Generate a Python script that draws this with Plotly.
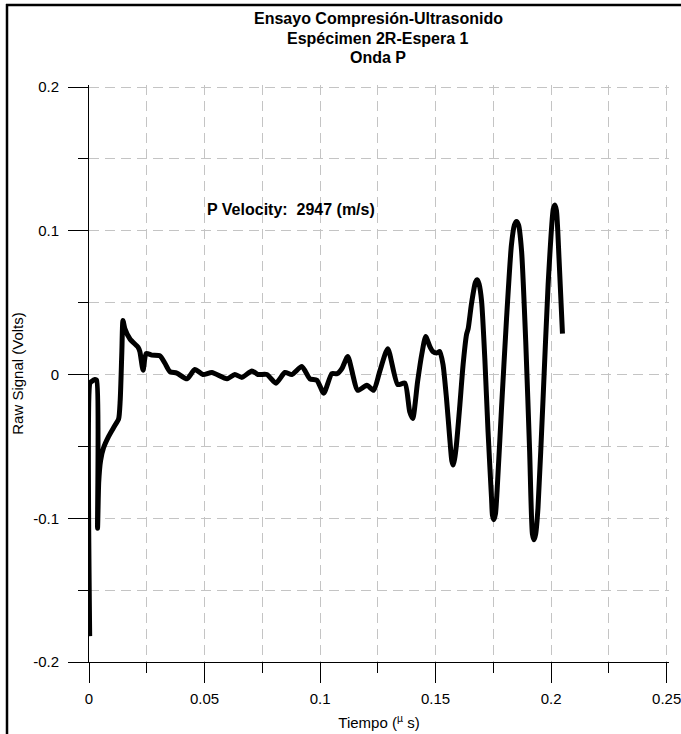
import plotly.graph_objects as go

# ---- data ----
time_us = [
    0.0003, 0.0004, 0.0010, 0.0025, 0.0033, 0.0037, 0.0042, 0.0050, 0.0063, 0.0085,
    0.0110, 0.0128, 0.0135, 0.0142, 0.0147, 0.0155, 0.0178, 0.0212, 0.0220, 0.0234,
    0.0247, 0.0272, 0.0307, 0.0328, 0.0350, 0.0380, 0.0424, 0.0458, 0.0493, 0.0532,
    0.0597, 0.0631, 0.0662, 0.0705, 0.0731, 0.0770, 0.0809, 0.0848, 0.0878, 0.0921,
    0.0956, 0.0986, 0.1016, 0.1051, 0.1073, 0.1094, 0.1120, 0.1163, 0.1202, 0.1232,
    0.1258, 0.1293, 0.1336, 0.1367, 0.1388, 0.1401, 0.1422, 0.1440, 0.1457, 0.1475,
    0.1488, 0.1505, 0.1518, 0.1532, 0.1547, 0.1561, 0.1570, 0.1576, 0.1582, 0.1590,
    0.1605, 0.1619, 0.1634, 0.1641, 0.1655, 0.1672, 0.1680, 0.1688, 0.1699, 0.1713,
    0.1727, 0.1742, 0.1746, 0.1752, 0.1759, 0.1766, 0.1785, 0.1807, 0.1828, 0.1841,
    0.1850, 0.1859, 0.1872, 0.1890, 0.1907, 0.1919, 0.1926, 0.1933, 0.1943, 0.1965,
    0.1987, 0.2009, 0.2016, 0.2023, 0.2034, 0.2049,
]
raw_signal = [
    -0.182, -0.006, -0.005, -0.0035, -0.004, -0.107, -0.075, -0.060, -0.051, -0.043,
    -0.036, -0.031, -0.018, 0.015, 0.0376, 0.032, 0.0245, 0.019, 0.016, 0.003,
    0.0146, 0.0135, 0.013, 0.008, 0.002, 0.001, -0.003, 0.0035, 0.0, 0.0014,
    -0.003, 0.0, -0.002, 0.0025, 0.0, 0.0, -0.006, 0.0014, 0.0, 0.0056,
    -0.003, -0.004, -0.013, 0.0007, 0.0005, 0.004, 0.0125, -0.011, -0.0075, -0.011,
    0.002, 0.018, -0.007, -0.006, -0.026, -0.0306, -0.005, 0.014, 0.0264, 0.0195,
    0.016, 0.015, 0.016, 0.007, -0.0165, -0.044, -0.060, -0.063, -0.059, -0.049,
    -0.021, 0.007, 0.028, 0.032, 0.049, 0.064, 0.066, 0.063, 0.051, 0.011,
    -0.040, -0.086, -0.098, -0.101, -0.097, -0.081, -0.024, 0.039, 0.090, 0.104,
    0.1065, 0.104, 0.086, 0.023, -0.054, -0.111, -0.115, -0.111, -0.093, -0.017,
    0.063, 0.115, 0.118, 0.114, 0.081, 0.0285,
]

x_tick_vals = [0, 0.05, 0.1, 0.15, 0.2, 0.25]
x_tick_text = ["0", "0.05", "0.1", "0.15", "0.2", "0.25"]
y_tick_vals = [-0.2, -0.1, 0, 0.1, 0.2]
y_tick_text = ["-0.2", "-0.1", "0", "0.1", "0.2"]

title_lines = ["Ensayo Compresión-Ultrasonido", "Espécimen 2R-Espera 1", "Onda P"]
velocity_label = "P Velocity:\u00a0 2947 (m/s)"
velocity_pos = (0.050, 0.115)

FONT = "Liberation Sans, Arial, sans-serif"
GRID = "#c4c4c4"

fig = go.Figure()
fig.add_trace(go.Scatter(
    x=time_us, y=raw_signal, mode="lines",
    line=dict(color="black", width=5, shape="spline", smoothing=0.6),
    showlegend=False, hoverinfo="skip",
))

W, H = 681, 734
# ranges are padded a hair so the edge grid lines (0.25 and 0.2) are kept
X_RANGE = [0, 0.251]
Y_RANGE = [-0.2, 0.2014]
L, R, T, B = 89, 12, 85, 72
pw, ph = W - L - R, H - T - B

def px_x(p):
    return (p - L) / pw

def px_y(p):
    return 1 - (p - T) / ph

title_y_px = [18, 38, 58]
annotations = [
    dict(x=px_x(378), y=px_y(yp), xref="paper", yref="paper",
         text=f"<b>{s}</b>", showarrow=False,
         xanchor="center", yanchor="middle",
         font=dict(family=FONT, size=16, color="black"))
    for s, yp in zip(title_lines, title_y_px)
]
annotations.append(dict(
    x=velocity_pos[0], y=velocity_pos[1], xref="x", yref="y",
    text=f"<b>{velocity_label}</b>", showarrow=False,
    xanchor="left", yanchor="middle", font=dict(family=FONT, size=16, color="black"),
))

axis_common = dict(
    showline=True, linecolor="black", linewidth=1,
    ticks="outside", ticklen=20, tickcolor="black", tickwidth=1,
    showgrid=True, gridcolor=GRID, griddash="10px,6px", gridwidth=1,
    zeroline=False, automargin=False, tickfont=dict(size=15),
    ticklabeloverflow="allow",
)

fig.update_layout(
    width=W, height=H,
    margin=dict(l=L, r=R, t=T, b=B, autoexpand=False),
    paper_bgcolor="white", plot_bgcolor="white",
    font=dict(family=FONT, size=15, color="black"),
    xaxis=dict(
        range=X_RANGE, tickvals=x_tick_vals, ticktext=x_tick_text,
        minor=dict(dtick=0.025, tick0=0, ticks="outside", ticklen=10,
                   tickcolor="black", showgrid=True, gridcolor=GRID,
                   griddash="10px,6px", gridwidth=1),
        ticklabelstandoff=3,
        title=dict(text="Tiempo (<sup>µ</sup> s)", font=dict(size=15), standoff=11),
        **axis_common,
    ),
    yaxis=dict(
        range=Y_RANGE, tickvals=y_tick_vals, ticktext=y_tick_text,
        minor=dict(dtick=0.05, tick0=0, ticks="outside", ticklen=10,
                   tickcolor="black", showgrid=True, gridcolor=GRID,
                   griddash="10px,6px", gridwidth=1),
        ticklabelstandoff=6,
        title=dict(text="Raw Signal (Volts)", font=dict(size=15), standoff=5),
        **axis_common,
    ),
    annotations=annotations,
    shapes=[
        dict(type="line", xref="paper", yref="paper",
             x0=px_x(7), x1=px_x(7), y0=px_y(4), y1=px_y(H + 2),
             line=dict(color="black", width=2.5)),
        dict(type="line", xref="paper", yref="paper",
             x0=px_x(6), x1=px_x(W + 2), y0=px_y(5), y1=px_y(5),
             line=dict(color="black", width=2.5)),
    ],
)

fig.write_html(
    "out.html",
    config={"displayModeBar": False},
    post_script="document.body.style.margin='0';",
)
